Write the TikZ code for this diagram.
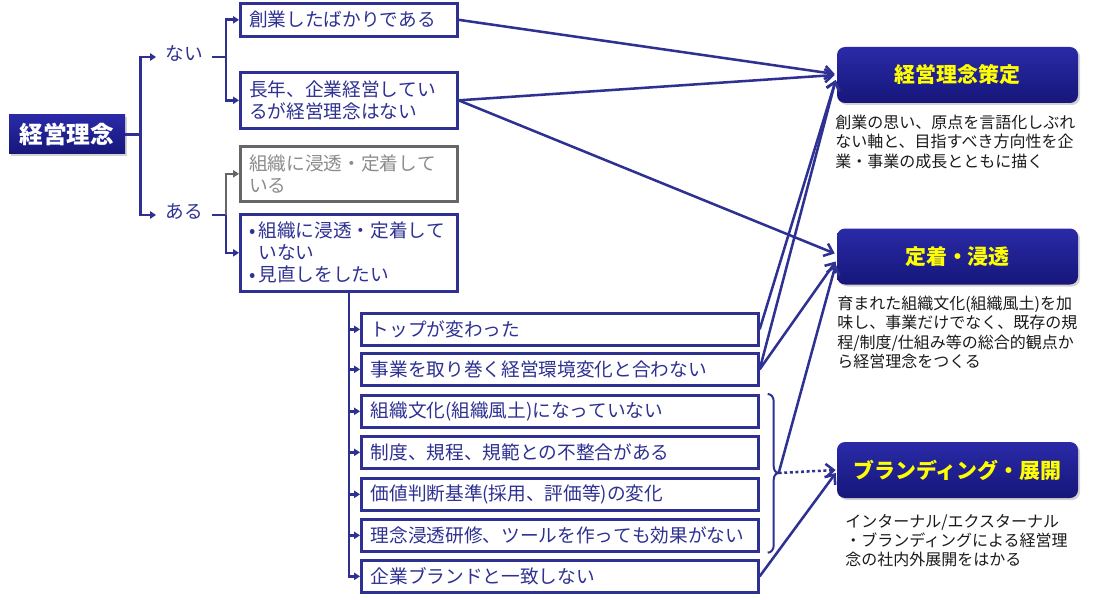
\documentclass[tikz,border=0pt]{standalone}
\usepackage{fontspec}
\setmainfont{Noto Sans CJK JP}
\XeTeXlinebreaklocale "ja"
\usetikzlibrary{arrows.meta,calc,shadows}
\definecolor{navy}{HTML}{2E3192}
\definecolor{boxtop}{HTML}{2A2AA8}
\definecolor{boxbot}{HTML}{16167A}
\definecolor{grayline}{HTML}{666666}
\definecolor{graytext}{HTML}{8C8C8C}
\definecolor{titleyellow}{HTML}{FFFF00}
\definecolor{desctext}{HTML}{1A1A1A}
\begin{document}
\begin{tikzpicture}[x=0.75pt,y=-0.75pt,
  lbox/.style={draw=navy, line width=2pt, fill=white, text=navy, anchor=north west,
    inner xsep=6.5pt, inner ysep=0pt, align=left, text width=149.75pt,
    font=\fontsize{14}{16.5}\selectfont},
  bbox/.style={draw=navy, line width=2pt, fill=white, text=navy, anchor=north west,
    inner xsep=7pt, inner ysep=0pt, align=left, text width=283.75pt, minimum height=24pt,
    font=\fontsize{14}{16.5}\selectfont},
  branch/.style={text=navy, inner xsep=6.75pt, inner ysep=2pt, font=\fontsize{14}{16.5}\selectfont},
  rootbox/.style={top color=boxtop, bottom color=boxbot, text=white, minimum width=87pt,
    minimum height=29.25pt, inner sep=0pt, font=\fontsize{17.8}{20}\selectfont\bfseries,
    drop shadow={opacity=0.35, shadow xshift=1.2pt, shadow yshift=-1.2pt}},
  resbox/.style={top color=boxtop, bottom color=boxbot, text=titleyellow, rounded corners=6pt,
    minimum width=180.75pt, minimum height=42pt, inner sep=0pt,
    font=\fontsize{15.7}{18}\selectfont\bfseries,
    drop shadow={opacity=0.35, shadow xshift=1.5pt, shadow yshift=-1.5pt}},
  desc/.style={anchor=north west, inner sep=0pt, align=left, text=desctext,
    font=\fontsize{12}{14.4}\selectfont},
  tree/.style={draw=navy, line width=2pt},
  tri/.style={-{Triangle[length=4.5pt,width=5.5pt]}},
  link/.style={draw=navy, line width=1.9pt, -{Straight Barb[length=6pt,width=10pt]}},
  bracestyle/.style={draw=navy, line width=1.5pt}
]
\useasboundingbox (0,0) rectangle (1098,599);

% root and branches
\node[rootbox] (root) at (67,134.5) {経営理念};
\node[branch] (nai) at (184,53) {ない};
\node[branch] (aru) at (184,212) {ある};

% left column boxes
\node[lbox, minimum height=24.75pt] (b1) at (239,2) {創業したばかりである};
\node[lbox, minimum height=42pt] (b2) at (239,71) {長年、企業経営してい\\るが経営理念はない};
\node[lbox, minimum height=41.25pt, draw=grayline, text=graytext] (b3) at (239,145) {組織に浸透・定着して\\いる};
\node[lbox, minimum height=57.75pt] (b4) at (239,213) {\makebox[7pt][l]{•}組織に浸透・定着して\\\hspace*{7pt}いない\\\makebox[7pt][l]{•}見直しをしたい};

% bottom boxes
\node[bbox] (c1) at (360,312) {トップが変わった};
\node[bbox] (c2) at (360,352) {事業を取り巻く経営環境変化と合わない};
\node[bbox] (c3) at (360,394) {組織文化(組織風土)になっていない};
\node[bbox] (c4) at (360,435) {制度、規程、規範との不整合がある};
\node[bbox] (c5) at (360,477) {価値判断基準(採用、評価等)の変化};
\node[bbox] (c6) at (360,518) {理念浸透研修、ツールを作っても効果がない};
\node[bbox] (c7) at (360,559) {企業ブランドと一致しない};

% result boxes
\node[resbox] (ce) at (957.5,75) {経営理念策定};
\node[resbox] (te) at (957.5,256.5) {定着・浸透};
\node[resbox] (br) at (957.5,470) {ブランディング・展開};

\node[desc] (ced) at (835,115) {創業の思い、原点を言語化しぶれ\\ない軸と、目指すべき方向性を企\\業・事業の成長とともに描く};
\node[desc] (ted) at (837,296) {育まれた組織文化(組織風土)を加\\味し、事業だけでなく、既存の規\\程/制度/仕組み等の総合的観点か\\ら経営理念をつくる};
\node[desc] (brd) at (845,514) {インターナル/エクスターナル\\・ブランディングによる経営理\\念の社内外展開をはかる};

% tree connectors
\coordinate (j1) at ($(root.east)+(15,0)$);
\coordinate (naiw) at ($(nai.west)+(0,4)$);
\coordinate (naie) at ($(nai.east)+(0,4)$);
\coordinate (aruw) at ($(aru.west)+(0,3)$);
\coordinate (arue) at ($(aru.east)+(0,3)$);
\coordinate (j2) at ($(naie)+(14,0)$);
\coordinate (j3) at ($(arue)+(14,0)$);
\draw[tree] (root.east) -- (j1);
\draw[tree,tri] (j1) |- (naiw);
\draw[tree,tri] (j1) |- (aruw);
\draw[tree] (naie) -- (j2);
\draw[tree,tri] (j2) |- (b1.west);
\draw[tree,tri] (j2) |- (b2.west);
\draw[tree] (arue) -- (j3);
\draw[tree,tri,draw=grayline] (j3) |- (b3.west);
\draw[tree,tri] (j3) |- (b4.west);
\draw[tree,tri] (b4.south) |- (c7.west);
\foreach \c in {c1,c2,c3,c4,c5,c6}{
  \draw[tree,tri] (b4.south |- \c.west) -- (\c.west);
}

% brace
\coordinate (btop) at ($(c3.north east)+(8,0)$);
\coordinate (btip) at ($(c3.north east)+(19,79)$);
\coordinate (bbot) at ($(c6.south east)+(8,0)$);
\draw[bracestyle] (btop) to[out=0,in=90] ($(btop)+(6,7)$) -- ($(btip)+(-5,-7)$)
  to[out=-90,in=180] (btip) to[out=180,in=90] ($(btip)+(-5,7)$)
  -- ($(bbot)+(6,-7)$) to[out=-90,in=0] (bbot);

% links to results
\draw[link] (b1.east) -- ($(ce.west)+(-2,-1)$);
\draw[link] (b2.east) -- ($(ce.west)+(-2,0)$);
\draw[link] (b2.east) -- ($(te.west)+(-2,-3)$);
\draw[link] (c1.east) -- ($(ce.west)+(-1,5)$);
\draw[link] (c2.east) -- ($(ce.west)+(-1,5)$);
\draw[link] (c2.east) -- ($(te.west)+(-1,5)$);
\draw[link] (btip) -- ($(te.west)+(-1,8)$);
\draw[link, dash pattern=on 2.2pt off 2pt] (btip) -- ($(br.west)+(-1,0)$);
\draw[link] (c7.east) -- ($(br.west)+(-1,3)$);
\end{tikzpicture}
\end{document}
